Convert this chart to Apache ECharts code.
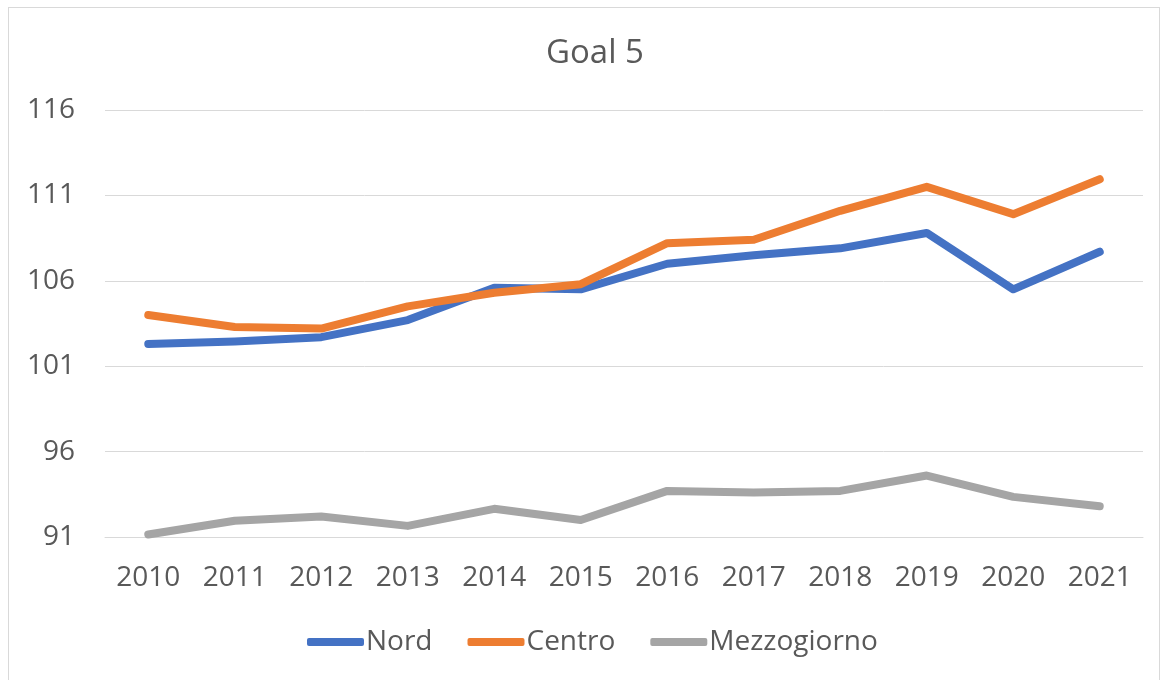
<!DOCTYPE html>
<html>
<head>
<meta charset="utf-8">
<script src="https://cdn.jsdelivr.net/npm/echarts@6/dist/echarts.min.js"></script>
<style>
  html, body { margin: 0; padding: 0; background: #fff; }
  #frame { position: absolute; left: 8px; top: 7px; width: 1150px; height: 700px; border: 1px solid #d9d9d9; }
  #main { position: absolute; left: 0; top: 0; width: 1166px; height: 680px; }
</style>
</head>
<body>
<div id="frame"></div>
<div id="main"></div>
<script>
var years = ['2010', '2011', '2012', '2013', '2014', '2015', '2016', '2017', '2018', '2019', '2020', '2021'];
var nord = [102.3, 102.45, 102.7, 103.7, 105.6, 105.5, 107.0, 107.5, 107.9, 108.8, 105.5, 107.7];
var centro = [104.0, 103.3, 103.2, 104.5, 105.3, 105.8, 108.2, 108.4, 110.1, 111.5, 109.9, 111.95];
var mezzogiorno = [91.15, 91.95, 92.2, 91.65, 92.65, 92.0, 93.7, 93.6, 93.7, 94.6, 93.35, 92.8];

var labelColor = '#595959';
var gridColor = '#d9d9d9';
var font = '"Open Sans", "Noto Sans", sans-serif';

function lineSeries(name, data, color) {
    return {
        name: name,
        type: 'line',
        data: data,
        symbol: 'none',
        color: color,
        lineStyle: { width: 8, color: color, cap: 'round', join: 'round' }
    };
}

var myChart = echarts.init(document.getElementById('main'));
var option = {
    animation: false,
    title: {
        text: 'Goal 5',
        left: 590,
        top: 32,
        textAlign: 'center',
        textStyle: { color: labelColor, fontSize: 33, fontWeight: 'normal', fontFamily: font }
    },
    grid: { left: 105, right: 23, top: 110, bottom: 143 },
    legend: {
        bottom: 19,
        left: 302,
        icon: 'roundRect',
        itemWidth: 57,
        itemHeight: 8,
        itemGap: 35,
        data: ['Nord', 'Centro', 'Mezzogiorno'],
        textStyle: { color: labelColor, fontSize: 28, fontFamily: font, padding: [0, 0, 0, -3] }
    },
    xAxis: {
        type: 'category',
        data: years,
        boundaryGap: true,
        axisLine: { lineStyle: { color: gridColor, width: 1 } },
        axisTick: { show: false },
        axisLabel: { color: labelColor, fontSize: 28, fontFamily: font, margin: 27 }
    },
    yAxis: {
        type: 'value',
        min: 91,
        max: 116,
        interval: 5,
        axisLine: { show: false },
        axisTick: { show: false },
        splitLine: { lineStyle: { color: gridColor, width: 1 } },
        axisLabel: { color: labelColor, fontSize: 28, fontFamily: font, margin: 30 }
    },
    series: [
        lineSeries('Nord', nord, '#4472C4'),
        lineSeries('Centro', centro, '#ED7D31'),
        lineSeries('Mezzogiorno', mezzogiorno, '#A5A5A5')
    ]
};
myChart.setOption(option, true);
window.addEventListener('resize', function () {
    myChart.resize();
});
</script>
</body>
</html>
